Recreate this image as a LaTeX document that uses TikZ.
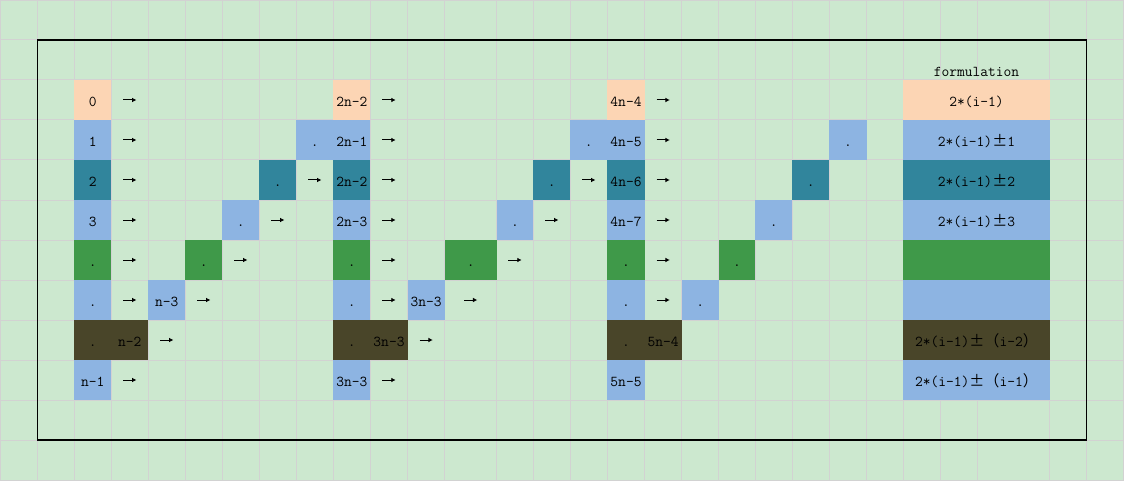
\documentclass[tikz,border=0pt]{standalone}
\usepackage{fontspec}
\newfontfamily\cjk{Noto Sans CJK SC}
\usetikzlibrary{arrows.meta}
\definecolor{bg}{HTML}{CCE8CF}
\definecolor{gridc}{HTML}{D2D2D2}
\definecolor{peach}{HTML}{FCD5B4}
\definecolor{lblue}{HTML}{8DB4E2}
\definecolor{teal}{HTML}{31859C}
\definecolor{dgreen}{HTML}{3F9949}
\definecolor{olive}{HTML}{494529}
\def\colx{{0,37.3,74.3,111.3,148.3,185.3,222.3,259.3,296.3,333.3,370.3,407.7,444.7,496.7,533.3,570.3,607.3,644.7,681.7,718.7,755.3,792.3,829.3,866.7,903.3,940.3,977.3,1049.7,1086.7,1123.3}}
% name, first col, last col, row, colour, text
\newcommand\cellat[6]{%
  \pgfmathsetmacro\xa{\colx[#2]}%
  \pgfmathsetmacro\xb{\colx[#3+1]}%
  \pgfmathsetmacro\cw{(\xb-\xa)*0.75}%
  \node[cellbox,fill=#5,minimum width=\cw pt] (#1) at ({(\xa+\xb)/2},{#4*40+20}) {#6};}
% name, col, row
\newcommand\arrat[3]{%
  \pgfmathsetmacro\xa{\colx[#2]}%
  \pgfmathsetmacro\xb{\colx[#2+1]}%
  \coordinate (#1) at ({(\xa+\xb)/2},{#3*40+20});
  \draw[arr] ([xshift=-4.9pt]#1) -- ([xshift=4.9pt]#1);}
\newcommand\pmsign{{\cjk ±}}
\begin{document}
\begin{tikzpicture}[x=0.75pt,y=-0.75pt,
  cellfont/.style={inner sep=0pt,text=black,
    font=\ttfamily\fontsize{11.3}{13}\selectfont},
  cellbox/.style={cellfont,minimum height=30pt,
    text height=9.8pt,text depth=0pt},
  gridline/.style={draw=gridc,line width=0.75pt},
  arr/.style={line width=0.75pt,-{Latex[length=3.2pt,width=3.6pt]}},
  frame/.style={draw=black,line width=0.8pt}]
\useasboundingbox (0,0) rectangle (1124,481);
\fill[bg] (0,0) rectangle (1124,481);
% grid
\foreach \i in {1,...,29} {\pgfmathsetmacro\gx{\colx[\i]}\draw[gridline] (\gx,0) -- (\gx,481);}
\draw[gridline] (0.5,0) -- (0.5,481);
\foreach \j in {1,...,11} {\draw[gridline] (0,\j*40) -- (1124,\j*40);}
\draw[gridline] (0,0.5) -- (1124,0.5);
\draw[gridline] (0,480.5) -- (1124,480.5);
% section 1
\cellat{a0}{2}{2}{2}{peach}{0}
\cellat{a1}{2}{2}{3}{lblue}{1}
\cellat{a2}{2}{2}{4}{teal}{2}
\cellat{a3}{2}{2}{5}{lblue}{3}
\cellat{a4}{2}{2}{6}{dgreen}{.}
\cellat{a5}{2}{2}{7}{lblue}{.}
\cellat{a6}{2}{2}{8}{olive}{.}
\cellat{a7}{2}{2}{9}{lblue}{n-1}
\cellat{b5}{4}{4}{7}{lblue}{n-3}
\cellat{b6}{3}{3}{8}{olive}{n-2}
\cellat{d4}{5}{5}{6}{dgreen}{.}
\cellat{d3}{6}{6}{5}{lblue}{.}
\cellat{d2}{7}{7}{4}{teal}{.}
\cellat{d1}{8}{8}{3}{lblue}{.}
\arrat{p1}{3}{2}\arrat{p2}{3}{3}\arrat{p3}{3}{4}\arrat{p4}{3}{5}
\arrat{p5}{3}{6}\arrat{p6}{3}{7}\arrat{p7}{5}{7}\arrat{p8}{4}{8}
\arrat{p9}{3}{9}\arrat{p10}{6}{6}\arrat{p11}{7}{5}\arrat{p12}{8}{4}
% section 2
\cellat{e0}{9}{9}{2}{peach}{2n-2}
\cellat{e1}{9}{9}{3}{lblue}{2n-1}
\cellat{e2}{9}{9}{4}{teal}{2n-2}
\cellat{e3}{9}{9}{5}{lblue}{2n-3}
\cellat{e4}{9}{9}{6}{dgreen}{.}
\cellat{e5}{9}{9}{7}{lblue}{.}
\cellat{e6}{9}{9}{8}{olive}{.}
\cellat{e7}{9}{9}{9}{lblue}{3n-3}
\cellat{f5}{11}{11}{7}{lblue}{3n-3}
\cellat{f6}{10}{10}{8}{olive}{3n-3}
\cellat{g4}{12}{12}{6}{dgreen}{.}
\cellat{g3}{13}{13}{5}{lblue}{.}
\cellat{g2}{14}{14}{4}{teal}{.}
\cellat{g1}{15}{15}{3}{lblue}{.}
\arrat{q1}{10}{2}\arrat{q2}{10}{3}\arrat{q3}{10}{4}\arrat{q4}{10}{5}
\arrat{q5}{10}{6}\arrat{q6}{10}{7}\arrat{q7}{12}{7}\arrat{q8}{11}{8}
\arrat{q9}{10}{9}\arrat{q10}{13}{6}\arrat{q11}{14}{5}\arrat{q12}{15}{4}
% section 3
\cellat{h0}{16}{16}{2}{peach}{4n-4}
\cellat{h1}{16}{16}{3}{lblue}{4n-5}
\cellat{h2}{16}{16}{4}{teal}{4n-6}
\cellat{h3}{16}{16}{5}{lblue}{4n-7}
\cellat{h4}{16}{16}{6}{dgreen}{.}
\cellat{h5}{16}{16}{7}{lblue}{.}
\cellat{h6}{16}{16}{8}{olive}{.}
\cellat{h7}{16}{16}{9}{lblue}{5n-5}
\cellat{k5}{18}{18}{7}{lblue}{.}
\cellat{k6}{17}{17}{8}{olive}{5n-4}
\cellat{m4}{19}{19}{6}{dgreen}{.}
\cellat{m3}{20}{20}{5}{lblue}{.}
\cellat{m2}{21}{21}{4}{teal}{.}
\cellat{m1}{22}{22}{3}{lblue}{.}
\arrat{r1}{17}{2}\arrat{r2}{17}{3}\arrat{r3}{17}{4}\arrat{r4}{17}{5}
\arrat{r5}{17}{6}\arrat{r6}{17}{7}
% formulation column
\node[cellfont,anchor=base] (ftitle) at (976.5,77) {formulation};
\cellat{s0}{24}{26}{2}{peach}{2*(i-1)}
\cellat{s1}{24}{26}{3}{lblue}{2*(i-1)\pmsign 1}
\cellat{s2}{24}{26}{4}{teal}{2*(i-1)\pmsign 2}
\cellat{s3}{24}{26}{5}{lblue}{2*(i-1)\pmsign 3}
\cellat{s4}{24}{26}{6}{dgreen}{}
\cellat{s5}{24}{26}{7}{lblue}{}
\cellat{s6}{24}{26}{8}{olive}{2*(i-1)\pmsign{\cjk （}i-2{\cjk ）}}
\cellat{s7}{24}{26}{9}{lblue}{2*(i-1)\pmsign{\cjk （}i-1{\cjk ）}}
% frame
\draw[frame] (37.3,40) rectangle (1086.7,440);
\end{tikzpicture}
\end{document}
